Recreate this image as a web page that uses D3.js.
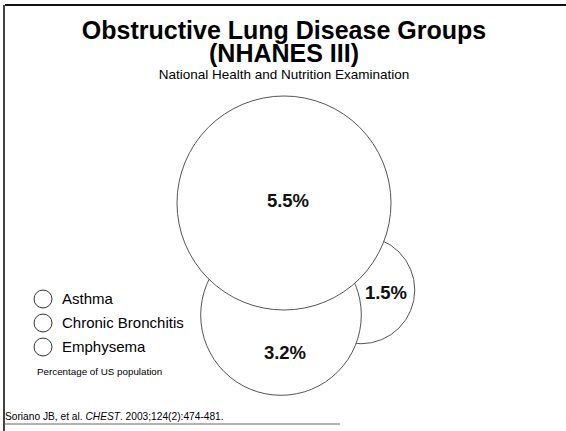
<!DOCTYPE html>
<html><head><meta charset="utf-8">
<script src="https://cdn.jsdelivr.net/npm/d3@7"></script>
<style>html,body{margin:0;padding:0;background:#fff;} svg{display:block;}</style>
</head><body>
<svg id="c" width="566" height="431"></svg>
<script>
// Data
const groups = ["Asthma", "Chronic Bronchitis", "Emphysema"];
const circleLabels = ["5.5%", "3.2%", "1.5%"];
const circleValues = [5.5, 3.2, 1.5];
const titleLines = ["Obstructive Lung Disease Groups", "(NHANES III)"];
const subtitle = "National Health and Nutrition Examination";
const legendNote = "Percentage of US population";
const sourceNote = ["Soriano JB, et al. ", "CHEST", ". 2003;124(2):474-481."];

const W = 566, H = 431;
const svg = d3.select("#c");
const font = "'Liberation Sans', Arial, Helvetica, sans-serif";

// frame
svg.append("line").attr("x1",5).attr("x2",566).attr("y1",5).attr("y2",5).attr("stroke","#111").attr("stroke-width",2);
svg.append("line").attr("x1",4).attr("x2",4).attr("y1",5).attr("y2",431).attr("stroke","#111").attr("stroke-width",1.6);
svg.append("line").attr("x1",4).attr("x2",340).attr("y1",424).attr("y2",424).attr("stroke","#666").attr("stroke-width",1);

// titles
svg.selectAll("text.title").data(titleLines).join("text")
  .attr("class","title")
  .attr("x", 284).attr("y", (d,i)=>39 + i*23)
  .attr("text-anchor","middle").attr("font-family",font)
  .attr("font-weight","bold").attr("font-size",25).attr("fill","#000").text(d=>d);
svg.append("text").attr("x",284).attr("y",79).attr("text-anchor","middle")
  .attr("font-family",font).attr("font-size",13.5).attr("fill","#000").text(subtitle);

// circle sizing (area-like scaling)
const r = d3.scalePow().exponent(0.53).domain([0, d3.max(circleValues)]).range([0, 107]);
// layout centers: big, bottom, right
const centers = [[284,203],[281,315],[361,290]];
const labelPos = [[288,207],[285,359],[386,299]];
const items = circleValues.map((v,i)=>({v, label:circleLabels[i], c:centers[i], l:labelPos[i]}));
// draw order: right, bottom, big
const order = [2,1,0];
const g = svg.append("g");
g.selectAll("circle").data(order.map(i=>items[i])).join("circle")
  .attr("cx", d=>d.c[0]).attr("cy", d=>d.c[1]).attr("r", d=>r(d.v))
  .attr("fill","#fff").attr("stroke","#555").attr("stroke-width",1);
svg.selectAll("text.val").data(items).join("text")
  .attr("class","val").attr("x", d=>d.l[0]).attr("y", d=>d.l[1])
  .attr("text-anchor","middle").attr("font-family",font).attr("font-weight","bold")
  .attr("font-size",18.5).attr("fill","#111").text(d=>d.label);

// legend
const ly = d3.scalePoint().domain(groups).range([299, 347]);
const lg = svg.append("g");
lg.selectAll("circle").data(groups).join("circle")
  .attr("cx",43).attr("cy",d=>ly(d)).attr("r",9)
  .attr("fill","#fff").attr("stroke","#333").attr("stroke-width",1);
lg.selectAll("text").data(groups).join("text")
  .attr("x",62).attr("y",d=>ly(d)+5).attr("font-family",font).attr("font-size",15)
  .attr("fill","#000").text(d=>d);
svg.append("text").attr("x",37).attr("y",375).attr("font-family",font)
  .attr("font-size",9.8).attr("fill","#000").text(legendNote);

// source
const st = svg.append("text").attr("x",5).attr("y",420).attr("font-family",font)
  .attr("font-size",10.2).attr("fill","#000");
sourceNote.forEach((s,i)=>st.append("tspan").attr("font-style", i===1?"italic":"normal").text(s));
</script>
</body></html>
